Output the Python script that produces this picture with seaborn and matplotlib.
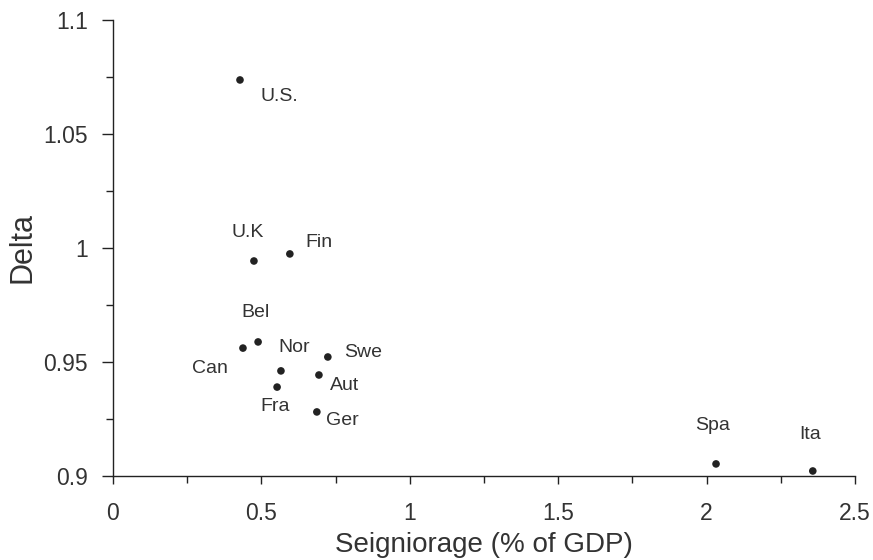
import matplotlib
matplotlib.use("Agg")
import matplotlib.pyplot as plt
import seaborn as sns
import pandas as pd
from matplotlib.ticker import MultipleLocator

countries = ["U.S.", "U.K.", "Fin", "Bel", "Can", "Nor", "Fra", "Swe", "Aut", "Ger", "Spa", "Ita"]
seigniorage = [0.428, 0.475, 0.596, 0.489, 0.438, 0.566, 0.553, 0.724, 0.694, 0.687, 2.032, 2.358]
delta = [1.0737, 0.9943, 0.9974, 0.9588, 0.9561, 0.9461, 0.9390, 0.9522, 0.9443, 0.9281, 0.9053, 0.9022]
label_texts = ["U.S.", "U.K", "Fin", "Bel", "Can", "Nor", "Fra", "Swe", "Aut", "Ger", "Spa", "Ita"]
# label offsets in pixels (dx, dy)
offsets = [(39, -17), (-6, 28), (29, 11), (-3, 29), (-33, -20), (13, 23), (-2, -19),
           (35, 4), (26, -11), (26, -9), (-3, 38), (-3, 36)]

sns.set_style("white")
plt.rcParams["font.family"] = ["Liberation Sans", "DejaVu Sans"]

df = pd.DataFrame({"country": countries, "Seigniorage": seigniorage, "Delta": delta})

fig = plt.figure(figsize=(8.73, 5.6), dpi=100)
ax = fig.add_axes([0.1294, 0.15, 0.8499, 0.8143])

sns.scatterplot(data=df, x="Seigniorage", y="Delta", ax=ax, color="#222222",
                s=30, edgecolor="none", marker="o", legend=False, clip_on=False)

for t, x, y, (dx, dy) in zip(label_texts, seigniorage, delta, offsets):
    ax.annotate(t, (x, y), xytext=(dx, dy), textcoords="offset pixels",
                ha="center", va="center", fontsize=14, color="#333333")

ax.set_xlim(0, 2.5)
ax.set_ylim(0.9, 1.1)
ax.xaxis.set_minor_locator(MultipleLocator(0.25))
ax.yaxis.set_minor_locator(MultipleLocator(0.025))
ax.set_xticks([0, 0.5, 1, 1.5, 2, 2.5])
ax.set_xticklabels(["0", "0.5", "1", "1.5", "2", "2.5"])
ax.set_yticks([0.9, 0.95, 1.0, 1.05, 1.1])
ax.set_yticklabels(["0.9", "0.95", "1", "1.05", "1.1"])

for s in ["top", "right"]:
    ax.spines[s].set_visible(False)
for s in ["left", "bottom"]:
    ax.spines[s].set_color("#222222")
    ax.spines[s].set_linewidth(1.0)

ax.tick_params(axis="both", which="major", direction="out", width=1,
               color="#222222", labelsize=16.5, labelcolor="#333333",
               bottom=True, left=True)
ax.tick_params(axis="x", which="major", length=6, pad=13)
ax.tick_params(axis="y", which="major", length=8, pad=10)
ax.tick_params(axis="both", which="minor", direction="out", length=5, width=1,
               color="#222222", bottom=True, left=True)

ax.set_xlabel("Seigniorage (% of GDP)", fontsize=20, color="#333333", labelpad=5)
ax.set_ylabel("Delta", fontsize=22, color="#333333", labelpad=4)

fig.savefig("out.png", dpi=100)
